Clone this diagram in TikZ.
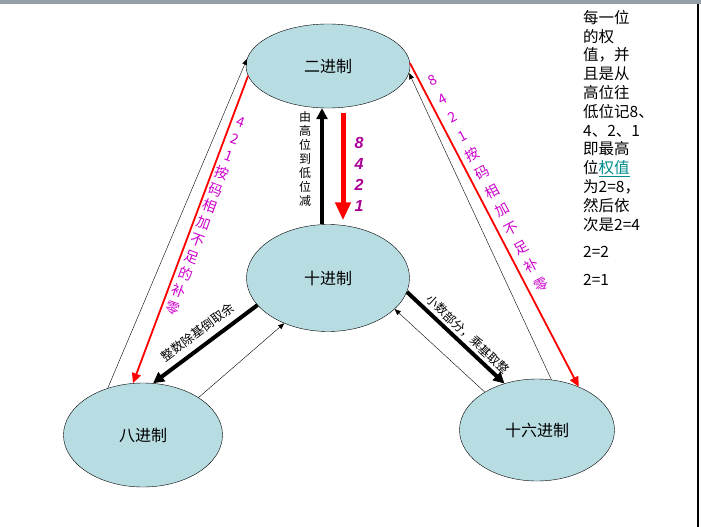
\documentclass[tikz,border=0pt]{standalone}
\usepackage{fontspec}
\setmainfont{Noto Sans CJK SC}
\newfontfamily\arialfont{Liberation Sans}
\usepackage{xcolor}
\usetikzlibrary{arrows.meta,shapes.geometric,positioning}
\tikzset{>=Stealth}

\definecolor{ovalfill}{RGB}{183,221,226}
\definecolor{codepink}{RGB}{204,0,204}
\definecolor{digitpurple}{RGB}{170,0,150}
\definecolor{barcol}{RGB}{150,158,168}
\definecolor{linkcol}{RGB}{0,140,140}

\begin{document}
\begin{tikzpicture}[x=1pt,y=-1pt,
                    numsys/.style={ellipse, draw=black, thin, fill=ovalfill, inner sep=0pt,
                                   font=\fontsize{16}{18}\selectfont},
                    thinarr/.style={thin, black, -{Triangle[width=5pt,length=6pt]}},
                    redarr/.style={red, line width=1.8pt, -{Triangle[width=9pt,length=10pt]}},
                    bigarr/.style={line width=4pt, black, -{Triangle[width=11pt,length=11pt]}},
                    bigred/.style={line width=5pt, red, -{Triangle[width=15pt,length=18pt]}},
                    stack/.style={align=center, inner sep=0pt},
                   ]

\useasboundingbox (0,0) rectangle (701,527);
\fill[barcol] (0,0) rectangle (701,4);
\draw[line width=1.5pt] (698,4) -- (698,527);

% the four number systems
\node[numsys, minimum width=164pt, minimum height=84pt]  (bin) at (328,66)  {二进制};
\node[numsys, minimum width=163pt, minimum height=107pt] (dec) at (328,278) {十进制};
\node[numsys, minimum width=159pt, minimum height=104pt] (oct) at (143,435) {八进制};
\node[numsys, minimum width=155pt, minimum height=102pt] (hex) at (537,430) {十六进制};

% binary <-> decimal
\draw[bigarr] ([xshift=-6pt]dec.north) -- ([xshift=-6pt]bin.south)
    node[pos=0.56, left=9pt, stack, font=\fontsize{12}{14}\selectfont] (subtxt) {由\\高\\位\\到\\低\\位\\减};
\draw[bigred, shorten <=5pt, shorten >=4pt] ([xshift=15pt]bin.south) -- ([xshift=15pt]dec.north)
    node[pos=0.57, right=9pt, stack, text=digitpurple,
         font=\arialfont\bfseries\itshape\fontsize{16}{21}\selectfont] (wtxt) {8\\4\\2\\1};

% binary <-> octal
\draw[thinarr] (oct.127) -- (bin.175);
\draw[redarr] (bin.187) -- (oct.101)
    node[pos=0.455, xshift=11pt, rotate=-20, stack, text=codepink,
         font=\fontsize{14}{18}\selectfont] (lefttxt) {4\\2\\1\\按\\码\\相\\加\\不\\足\\的\\补\\零};

% binary <-> hexadecimal
\draw[thinarr] (hex.74) -- (bin.355);
\draw[redarr] (bin.2) -- (hex.46)
    node[pos=0.37, xshift=15pt, rotate=28, stack, text=codepink,
         font=\fontsize{14}{21}\selectfont] (righttxt) {8\\4\\2\\1\\按\\码\\相\\加\\不\\足\\补\\零};

% decimal -> octal / hexadecimal
\draw[bigarr] (dec.201) -- (oct.79)
    node[pos=0.49, sloped, above=5pt, inner sep=1pt, font=\fontsize{12.5}{14}\selectfont] (inttxt) {整数除基倒取余};
\draw[thinarr] (oct.34) -- (dec.226);
\draw[bigarr] (dec.350) -- (hex.125)
    node[pos=0.55, sloped, above=2pt, inner sep=1pt, font=\fontsize{12}{14}\selectfont] (fractxt) {小数部分，乘基取整};
\draw[thinarr] (hex.144) -- (dec.335);

% note on the weights
\node[anchor=north west, align=left, inner sep=0pt, font=\fontsize{15.5}{18.8}\selectfont] (note) at (583,10)
    {每一位\\的权\\值，并\\且是从\\高位往\\低位记8、\\4、2、1\\即最高\\位\textcolor{linkcol}{\underline{权值}}\\为2=8，\\然后依\\次是2=4\\[9pt]2=2\\[9pt]2=1};

\end{tikzpicture}
\end{document}
